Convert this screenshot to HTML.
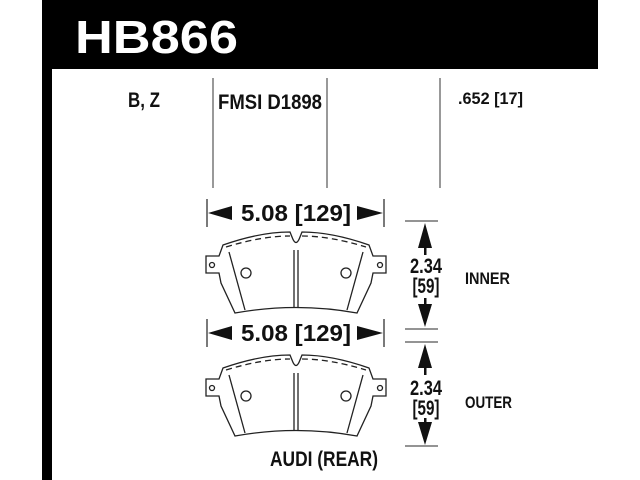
<!DOCTYPE html>
<html><head><style>html,body{margin:0;padding:0;background:#fff;}svg{display:block}</style></head>
<body>
<svg width="640" height="480" viewBox="0 0 640 480" xmlns="http://www.w3.org/2000/svg" font-family="Liberation Sans, sans-serif" font-weight="bold">
<rect x="0" y="0" width="640" height="480" fill="#fff"/>
<rect x="42" y="0" width="556" height="69" fill="#000"/>
<rect x="42" y="0" width="10" height="480" fill="#000"/>
<text x="75" y="53" fill="#fff" font-size="46" textLength="163" lengthAdjust="spacingAndGlyphs">HB866</text>
<g fill="#111" font-size="21">
<text x="128" y="107" textLength="32" lengthAdjust="spacingAndGlyphs">B, Z</text>
<text x="218" y="109" textLength="104" lengthAdjust="spacingAndGlyphs">FMSI D1898</text>
<text x="458" y="104" font-size="17" textLength="65" lengthAdjust="spacingAndGlyphs">.652 [17]</text>
</g>
<g stroke="#555" stroke-width="1.2">
<line x1="213" y1="78" x2="213" y2="188"/><line x1="327" y1="78" x2="327" y2="188"/><line x1="440" y1="78" x2="440" y2="188"/>
</g>
<defs>
<g id="pad" fill="none" stroke="#222" stroke-width="1.3">
<path d="M223,245 Q260,232 290,232 L292,237 Q296,248 300,237 L302,232 Q332,232 369,245 L373,256 L386,256 L386,273 L373,273 L371,283 L357,313 Q296,302 235,313 L221,283 L219,273 L206,273 L206,256 L219,256 Z"/>
<path d="M226,247 Q262,236 290,236 M302,236 Q330,236 366,247" stroke-dasharray="6,4"/>
<path d="M229,252 L245,310 M363,252 L347,310"/>
<line x1="294" y1="250" x2="294" y2="307"/><line x1="298" y1="250" x2="298" y2="307"/>
<circle cx="246" cy="273" r="5"/><circle cx="346" cy="273" r="5"/>
<circle cx="212" cy="265" r="2.5"/><circle cx="380" cy="265" r="2.5"/>
</g>
<g id="hdim">
<line x1="207" y1="0" x2="207" y2="28" stroke="#222" stroke-width="1.2"/>
<line x1="384" y1="0" x2="384" y2="28" stroke="#222" stroke-width="1.2"/>
<line x1="215" y1="14" x2="232" y2="14" stroke="#111" stroke-width="2.5"/>
<line x1="357" y1="14" x2="376" y2="14" stroke="#111" stroke-width="2.5"/>
<path d="M208,14 L232,7 L232,21 Z M383,14 L357,7 L357,21 Z" fill="#111"/>
<text x="296" y="22" text-anchor="middle" font-size="23" fill="#111" textLength="110" lengthAdjust="spacingAndGlyphs">5.08 [129]</text>
</g>
</defs>
<use href="#pad"/>
<use href="#pad" transform="translate(0,123)"/>
<use href="#hdim" transform="translate(0,199)"/>
<use href="#hdim" transform="translate(0,319)"/>
<g stroke="#555" stroke-width="1.2">
<line x1="405" y1="221" x2="438" y2="221"/><line x1="405" y1="329" x2="438" y2="329"/>
<line x1="405" y1="342" x2="438" y2="342"/><line x1="405" y1="446" x2="438" y2="446"/>
</g>
<g fill="#111">
<path d="M425,223 L418,248 L432,248 Z M425,327 L418,304 L432,304 Z"/>
<path d="M425,344 L418,368 L432,368 Z M425,445 L418,422 L432,422 Z"/>
<rect x="424" y="247" width="2.5" height="8"/><rect x="424" y="298" width="2.5" height="7"/>
<rect x="424" y="367" width="2.5" height="8"/><rect x="424" y="418" width="2.5" height="5"/>
<g font-size="21">
<text x="426" y="273" text-anchor="middle" textLength="32" lengthAdjust="spacingAndGlyphs">2.34</text>
<text x="426" y="293" text-anchor="middle" textLength="27" lengthAdjust="spacingAndGlyphs">[59]</text>
<text x="426" y="395" text-anchor="middle" textLength="32" lengthAdjust="spacingAndGlyphs">2.34</text>
<text x="426" y="415" text-anchor="middle" textLength="27" lengthAdjust="spacingAndGlyphs">[59]</text>
</g>
<text x="465" y="284" font-size="17" textLength="45" lengthAdjust="spacingAndGlyphs">INNER</text>
<text x="465" y="408" font-size="17" textLength="47" lengthAdjust="spacingAndGlyphs">OUTER</text>
<text x="270" y="466" font-size="21" textLength="108" lengthAdjust="spacingAndGlyphs">AUDI (REAR)</text>
</g>
</svg>
</body></html>
